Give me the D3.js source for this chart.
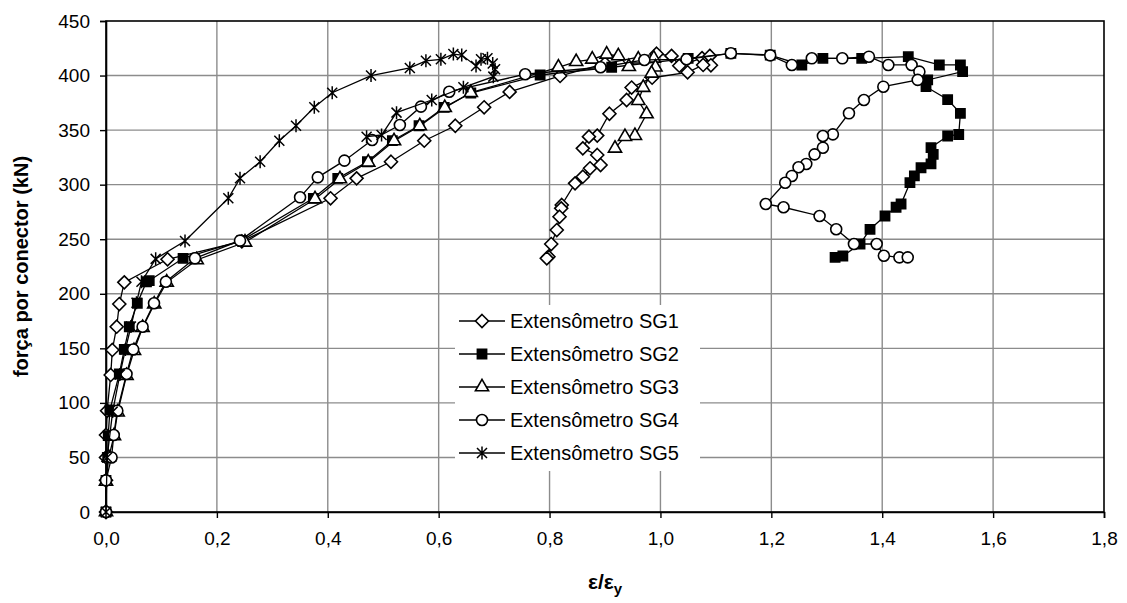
<!DOCTYPE html>
<html>
<head>
<meta charset="utf-8">
<style>
  body { margin: 0; background: #fff; }
  svg { display: block; font-family: "Liberation Sans", Arial, sans-serif; }
</style>
</head>
<body>
<svg width="1127" height="603"></svg>
<script src="https://d3js.org/d3.v7.min.js"></script>
<script>

// tick values
var xTicks = [0, 0.2, 0.4, 0.6, 0.8, 1.0, 1.2, 1.4, 1.6, 1.8];
var yTicks = [0, 50, 100, 150, 200, 250, 300, 350, 400, 450];

var seriesNames = ["Extensômetro SG1", "Extensômetro SG2", "Extensômetro SG3", "Extensômetro SG4", "Extensômetro SG5"];

// [strain ratio, force kN]
var sg1 = [[0,0],[0,29],[0,50],[0,70.6],[0.002,92.8],[0.0085,125.6],[0.0114,148.5],[0.0193,169.8],[0.024,190.6],[0.033,210.5],
  [0.111,231.6],[0.245,248],[0.405,287.5],[0.452,305.8],[0.514,321],[0.574,340.3],[0.63,354],[0.682,370.9],[0.728,385],
  [0.819,399.6],[0.90,411],[0.993,420],[1.02,418],[1.034,409],[1.075,416],[1.089,418],[1.091,409.4],[1.077,409.7],[1.049,403],
  [0.985,398],[0.948,389],[0.939,377.6],[0.908,365],[0.886,345],[0.871,344],[0.86,333.3],[0.886,327.2],[0.892,318],
  [0.873,315],[0.86,307.3],[0.846,301.2],[0.822,281.4],[0.821,278.3],[0.818,270.6],[0.813,258.4],[0.803,245.6],[0.798,234],[0.795,232.5]];

var sg2 = [[0,0],[0,29],[0.003,50],[0.004,70],[0.007,93.5],[0.024,126.5],[0.033,149],[0.042,169.8],[0.0565,191.3],[0.073,211],
  [0.078,212],[0.139,232.5],[0.245,249],[0.374,287.5],[0.418,305.8],[0.4715,321],[0.5165,340.3],[0.5646,354],[0.61,370.9],
  [0.658,384],[0.783,400.5],[0.912,407.6],[1.05,415.8],[1.127,420.4],[1.198,418.8],[1.255,409.7],[1.293,415.8],[1.363,415.8],
  [1.447,417.3],[1.503,409.7],[1.541,409.7],[1.545,403.6],[1.482,396],[1.479,389.8],[1.518,378],[1.541,365.4],[1.538,346],
  [1.518,344.6],[1.488,334],[1.492,327.8],[1.488,319],[1.47,315.5],[1.458,308],[1.45,301.8],[1.434,282.3],[1.425,279.3],
  [1.405,271.3],[1.378,259.1],[1.36,245.6],[1.329,234.6],[1.315,233.4]];

var sg3 = [[0,0],[0,28],[0.005,50],[0.0144,69.7],[0.021,91.4],[0.037,125],[0.0505,147.8],[0.066,169],[0.087,190.4],[0.1095,210.5],
  [0.1636,231],[0.2507,247.2],[0.377,286.9],[0.422,305.2],[0.473,320.5],[0.5195,340],[0.566,353.8],[0.611,370.5],[0.658,384.3],
  [0.816,407.6],[0.848,412.7],[0.877,414.9],[0.903,419.5],[0.924,418],[0.943,408.1],[0.96,415],[0.988,415.8],[0.991,407.6],
  [0.984,402],[0.969,389],[0.96,377],[0.975,364.8],[0.954,344.9],[0.936,344],[0.918,333.3]];

var sg4 = [[0,0],[0,29],[0.01,50],[0.014,70.6],[0.0204,92.8],[0.037,126.5],[0.049,149],[0.066,169.8],[0.0866,191.3],[0.108,211],
  [0.1605,232.5],[0.2417,248.7],[0.35,288.4],[0.382,306.7],[0.43,322],[0.48,340.9],[0.53,354.7],[0.568,371.5],[0.619,385.2],
  [0.756,401.2],[0.892,407.6],[0.971,414.3],[1.047,414.9],[1.127,420.4],[1.198,418.5],[1.237,409.7],[1.273,415.8],[1.328,415.8],
  [1.376,417.3],[1.411,409.7],[1.453,409.7],[1.467,403.6],[1.464,396],[1.402,389.8],[1.367,377.6],[1.34,365.4],[1.311,346.1],
  [1.293,344.6],[1.293,333.9],[1.278,327.8],[1.263,319],[1.249,316],[1.237,308],[1.225,301.8],[1.19,282.3],[1.222,279.3],
  [1.287,271.3],[1.317,259.1],[1.349,245.6],[1.39,245.6],[1.403,234.9],[1.431,233.4],[1.446,233.4]];

var sg5 = [[0,0],[0.002,50],[0.012,92],[0.025,126],[0.035,149],[0.045,170],[0.055,191.8],[0.064,211],[0.0896,232],[0.1425,248.4],
  [0.2206,287.5],[0.2417,305.8],[0.278,321],[0.3126,340.3],[0.3427,354],[0.3757,370.9],[0.408,384.3],[0.478,400],[0.548,407],
  [0.577,413.5],[0.604,414.9],[0.6265,419.7],[0.6416,418.8],[0.6674,408.8],[0.6764,414.9],[0.688,415.8],[0.6975,411],
  [0.7017,405.8],[0.6986,399],[0.6446,389.2],[0.5875,377.6],[0.524,366],[0.497,345.5],[0.47,344]];

var allSeries = [sg1, sg2, sg3, sg4, sg5];
var markers = ["diamond", "square", "triangle", "circle", "star"];

var svg = d3.select("svg");
var margin = {left: 106, right: 23, top: 21, bottom: 91};
var width = 1127 - margin.left - margin.right,
    height = 603 - margin.top - margin.bottom;

var x = d3.scaleLinear().domain([0, 1.8]).range([0, width]);
var y = d3.scaleLinear().domain([0, 450]).range([height, 0]);

var g = svg.append("g").attr("transform", "translate(" + margin.left + "," + margin.top + ")");

// grid
g.append("g").selectAll("line").data(xTicks.slice(1, -1)).enter().append("line")
    .attr("x1", function(d) { return x(d); }).attr("x2", function(d) { return x(d); })
    .attr("y1", 0).attr("y2", height)
    .attr("stroke", "#8c8c8c").attr("stroke-width", 1.4);
g.append("g").selectAll("line").data(yTicks.slice(1, -1)).enter().append("line")
    .attr("y1", function(d) { return y(d); }).attr("y2", function(d) { return y(d); })
    .attr("x1", 0).attr("x2", width)
    .attr("stroke", "#8c8c8c").attr("stroke-width", 1.4);

// frame
g.append("rect").attr("width", width).attr("height", height)
    .attr("fill", "none").attr("stroke", "#000").attr("stroke-width", 1.6);

var fmt = function(d) { return d3.format(".1f")(d).replace(".", ","); };

var xAxis = g.append("g").attr("transform", "translate(0," + height + ")")
    .call(d3.axisBottom(x).tickValues(xTicks).tickFormat(fmt).tickSize(6).tickPadding(14));
var yAxis = g.append("g")
    .call(d3.axisLeft(y).tickValues(yTicks).tickSize(6).tickPadding(10));
[xAxis, yAxis].forEach(function(a) {
  a.select(".domain").attr("stroke", "#000").attr("stroke-width", 1.6);
  a.selectAll(".tick line").attr("stroke", "#000").attr("stroke-width", 1.4);
  a.selectAll("text").attr("font-size", 19).attr("fill", "#000")
    .style("font-family", "'Liberation Sans', Arial, sans-serif");
});

// markers
function markerPath(type) {
  if (type == "diamond") return "M0,-6.5L6.5,0L0,6.5L-6.5,0Z";
  if (type == "square") return d3.symbol().type(d3.symbolSquare).size(85)();
  if (type == "triangle") return d3.symbol().type(d3.symbolTriangle).size(75)();
  if (type == "circle") return d3.symbol().type(d3.symbolCircle).size(95)();
  return "M-5,-5L5,5M-5,5L5,-5M0,-6.5L0,6.5";
}

function drawMarker(sel, type) {
  sel.append("path")
      .attr("d", markerPath(type))
      .attr("fill", type == "square" ? "#000" : (type == "star" ? "none" : "#fff"))
      .attr("stroke", "#000")
      .attr("stroke-width", type == "star" ? 1.5 : 1.6);
}

var line = d3.line().x(function(d) { return x(d[0]); }).y(function(d) { return y(d[1]); });

allSeries.forEach(function(data, i) {
  var s = g.append("g").attr("class", "series");
  s.append("path").datum(data).attr("d", line)
      .attr("fill", "none").attr("stroke", "#000").attr("stroke-width", 1.3);
  s.selectAll("g.pt").data(data).enter().append("g")
      .attr("class", "pt")
      .attr("transform", function(d) { return "translate(" + x(d[0]) + "," + y(d[1]) + ")"; })
      .each(function() { drawMarker(d3.select(this), markers[i]); });
});

// legend
var legend = svg.append("g").attr("transform", "translate(455,305)");
legend.append("rect").attr("width", 245).attr("height", 166).attr("fill", "#fff");
seriesNames.forEach(function(name, i) {
  var row = legend.append("g").attr("transform", "translate(0," + (16 + i * 33) + ")");
  row.append("line").attr("x1", 4).attr("x2", 50).attr("stroke", "#000").attr("stroke-width", 1.3);
  var m = row.append("g").attr("transform", "translate(27,0)");
  drawMarker(m, markers[i]);
  row.append("text").attr("x", 55).attr("dy", "0.35em")
      .attr("font-size", 20).text(name);
});

// axis titles
svg.append("text")
    .attr("transform", "translate(28," + (margin.top + height / 2) + ") rotate(-90)")
    .attr("text-anchor", "middle").attr("font-weight", "bold").attr("font-size", 20)
    .text("força por conector (kN)");

var xt = svg.append("text")
    .attr("x", margin.left + width / 2).attr("y", 589)
    .attr("text-anchor", "middle").attr("font-weight", "bold").attr("font-size", 21);
xt.append("tspan").text("ε/ε");
xt.append("tspan").attr("font-size", 15).attr("dy", 5).text("y");

</script>
</body>
</html>
